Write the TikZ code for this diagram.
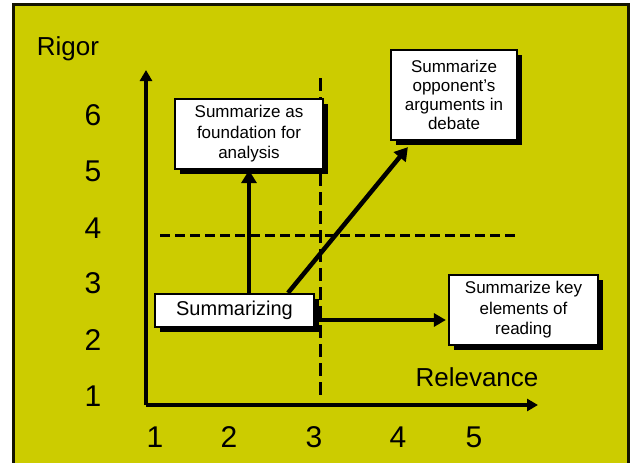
\documentclass[tikz,border=0pt]{standalone}
\usepackage{fontspec}
\setmainfont{Liberation Sans}
\usetikzlibrary{arrows.meta,shadows}
\definecolor{olivebg}{RGB}{204,204,0}
\definecolor{frameline}{RGB}{20,20,0}
\begin{document}
\begin{tikzpicture}[x=1pt,y=-1pt,
  box/.style={draw=black,line width=2.2pt,fill=white,align=center,inner sep=2pt,
    general shadow={fill=black,shadow xshift=4.5pt,shadow yshift=-4.5pt}},
  boxtext/.style={font=\fontsize{17}{20.5}\selectfont},
  axis/.style={line width=3.4pt,-{Triangle[length=11pt,width=12pt]}},
  arr/.style={line width=4.5pt,-{Triangle[length=13pt,width=15pt]}},
  dashline/.style={line width=3pt,dash pattern=on 10pt off 5pt},
  big/.style={font=\fontsize{26}{30}\selectfont},
  digit/.style={font=\fontsize{30}{34}\selectfont}]
\useasboundingbox (0,0) rectangle (632,463);
\fill[white] (0,0) rectangle (632,463);
\draw[fill=olivebg,draw=frameline,line width=2.8pt] (13.5,4.5) rectangle (628.5,475);
% axes
\coordinate (O) at (146,405);
\coordinate (ytip) at (146,70);
\coordinate (xtip) at (538,405);
\draw[axis] (O) -- (ytip);
\draw[axis] (O) -- (xtip);
% dashed lines
\coordinate (v1) at (320,78);
\coordinate (v2) at (320,398);
\coordinate (h1) at (160,235);
\coordinate (h2) at (515,235);
\draw[dashline,dash pattern=on 13pt off 6pt] (v1) -- (v2);
\draw[dashline] (h1) -- (h2);
% labels
\node[big] (rigor) at (68,49) {Rigor};
\node[big] (relev) at (477,377) {Relevance};
\node[digit] (y6) at (93,115) {6};
\node[digit] (y5) at (93,171) {5};
\node[digit] (y4) at (93,228) {4};
\node[digit] (y3) at (93,283) {3};
\node[digit] (y2) at (93,340) {2};
\node[digit] (y1) at (93,396) {1};
\node[digit] (x1) at (155,437) {1};
\node[digit] (x2) at (229,437) {2};
\node[digit] (x3) at (314,437) {3};
\node[digit] (x4) at (398,437) {4};
\node[digit] (x5) at (474,437) {5};
% boxes
\node[box,boxtext,minimum width=148pt,minimum height=70pt] (A) at (249,134)
  {Summarize as\\foundation for\\analysis};
\node[box,boxtext,minimum width=126pt,minimum height=90pt,font=\fontsize{17}{19}\selectfont] (C) at (454,95)
  {Summarize\\opponent’s\\arguments in\\debate};
\node[box,boxtext,minimum width=149pt,minimum height=70pt] (D) at (523.5,310)
  {Summarize key\\elements of\\reading};
\node[box,minimum width=159pt,minimum height=33pt,font=\fontsize{20}{24}\selectfont] (B) at (234.5,310.5)
  {Summarizing};
% arrows
\draw[arr] (A.south |- B.north) -- (A.south);
\draw[arr] ([xshift=53.5pt]B.north) -- ([xshift=18pt,yshift=-6pt]C.south west);
\draw[line width=4.5pt,-{Triangle[length=12pt,width=13pt]}] ([yshift=-9.5pt,xshift=4pt]B.east) -- ([yshift=-10pt,xshift=-2pt]D.west);
\end{tikzpicture}
\end{document}
